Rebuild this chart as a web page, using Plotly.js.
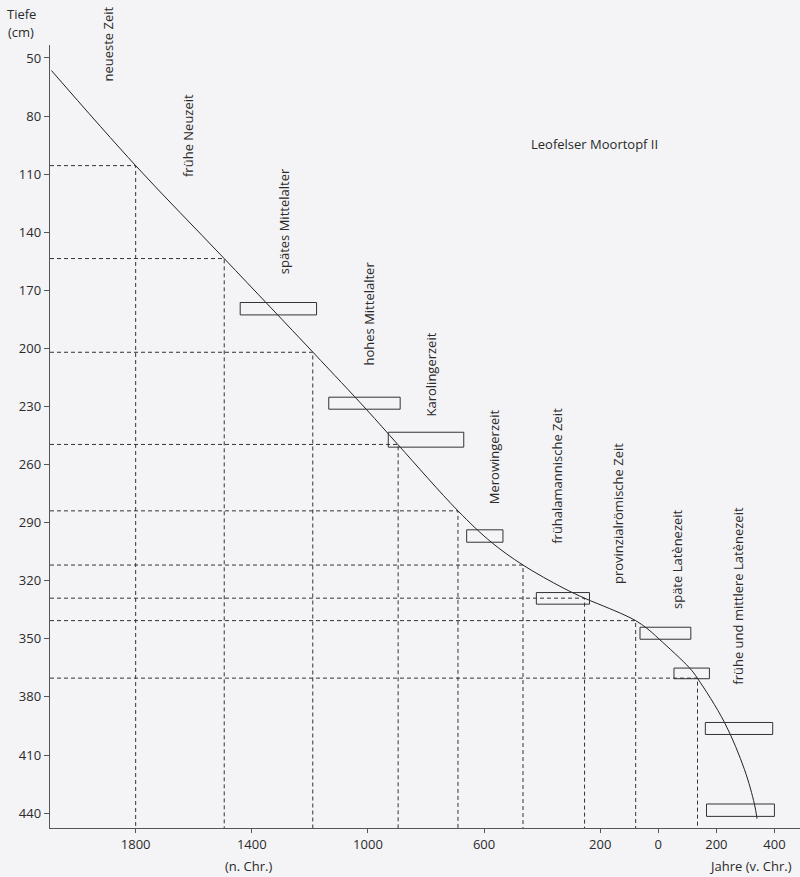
<!DOCTYPE html>
<html>
<head>
<meta charset="utf-8">
<script src="https://cdn.plot.ly/plotly-3.0.1.min.js"></script>
<style>
  html, body { margin: 0; padding: 0; background: #f4f4f6; }
  #chart { width: 800px; height: 877px; }
</style>
</head>
<body>
<div id="chart"></div>
<script>
// ---------- data (years: n. Chr. positive, v. Chr. negative; depth in cm) ----------
const depthTicks = [50, 80, 110, 140, 170, 200, 230, 260, 290, 320, 350, 380, 410, 440];
const yearTicks = [1800, 1400, 1000, 600, 200, 0, -200, -400];
const yearTickText = ['1800', '1400', '1000', '600', '200', '0', '200', '400'];

// age-depth curve
const curveYear  = [2090, 1800, 1495, 1188, 1006, 896, 690, 575, 466, 328, 254, 169, 118, 78, 39, -2, -108, -135, -228, -297, -331, -340];
const curveDepth = [56.5, 105.6, 153.6, 202.2, 231.4, 249.8, 283.9, 300.1, 311.9, 323.7, 329, 334.3, 337.6, 340.6, 344.6, 350.0, 365.1, 370.4, 393.2, 417.6, 435.3, 442.9];

// period boundaries (dashed)
const boundaryYear  = [1800, 1495, 1190, 896, 690, 466, 254, 78, -135];
const boundaryDepth = [105.6, 153.6, 202, 249.6, 283.9, 311.9, 329, 340.6, 370.3];

// dating boxes (calibrated ranges)
const boxYearFrom  = [1440, 1135, 930, 660, 420, 63, -54, -162, -166];
const boxYearTo    = [1177, 889, 670, 535, 237, -112, -176, -394, -400];
const boxDepthTop  = [176.3, 225.2, 243.3, 293.7, 326.1, 344, 365.1, 393.2, 435.3];
const boxDepthBot  = [182.7, 231.4, 251, 300.1, 332.1, 350.2, 370.6, 399.4, 441.7];

// period names
const periods = ['neueste Zeit', 'frühe Neuzeit', 'spätes Mittelalter', 'hohes Mittelalter', 'Karolingerzeit',
                 'Merowingerzeit', 'frühalamannische Zeit', 'provinzialrömische Zeit', 'späte Latènezeit',
                 'frühe und mittlere Latènezeit'];

// ---------- layout constants ----------
const W = 800, H = 877, ML = 50, MR = 0, MT = 45, MB = 49;
const xRange = [2095, -488];
const yRange = [447.7, 43.3];
const FONT = 'Open Sans, Noto Sans, sans-serif';
const INK = '#2a2a2a';
const AX = '#555555';
const pw = W - ML - MR, ph = H - MT - MB;
const paperX = p => (p - ML) / pw;
const paperY = p => (H - MB - p) / ph;

// label centre positions (pixels) for period names
const periodLabelPx = [[108, 44.5], [188, 136], [283.4, 220.8], [368.5, 314], [430.5, 375],
                       [493.5, 456.7], [556.8, 476], [618, 514], [677, 559], [738, 595.7]];

// ---------- traces ----------
const bx = [], by = [];
for (let i = 0; i < boundaryYear.length; i++) {
  bx.push(xRange[0], boundaryYear[i], boundaryYear[i], null);
  by.push(boundaryDepth[i], boundaryDepth[i], yRange[0], null);
}
const traces = [
  { x: bx, y: by, mode: 'lines', type: 'scatter', hoverinfo: 'skip',
    line: { color: '#333', width: 1, dash: '4px,3px' }, connectgaps: false },
  { x: curveYear, y: curveDepth, mode: 'lines', type: 'scatter', hoverinfo: 'skip',
    line: { color: '#222', width: 1, shape: 'spline', smoothing: 1 } }
];

const shapes = boxYearFrom.map((x0, i) => ({
  type: 'rect', xref: 'x', yref: 'y', x0: x0, x1: boxYearTo[i], y0: boxDepthTop[i], y1: boxDepthBot[i],
  line: { color: '#333', width: 1 }, fillcolor: 'rgba(0,0,0,0)', layer: 'above'
}));

const annotations = periods.map((t, i) => ({
  text: t, x: paperX(periodLabelPx[i][0]), y: paperY(periodLabelPx[i][1]), xref: 'paper', yref: 'paper',
  textangle: -90, showarrow: false, xanchor: 'center', yanchor: 'middle',
  font: { family: FONT, size: 13, color: INK }
}));
annotations.push(
  { text: 'Leofelser Moortopf II', x: paperX(594), y: paperY(144), xref: 'paper', yref: 'paper', showarrow: false,
    xanchor: 'center', yanchor: 'middle', font: { family: FONT, size: 13, color: INK } },
  { text: 'Tiefe', x: paperX(22), y: paperY(13.5), xref: 'paper', yref: 'paper', showarrow: false,
    xanchor: 'center', yanchor: 'middle', font: { family: FONT, size: 13, color: INK } },
  { text: '(cm)', x: paperX(20.5), y: paperY(32), xref: 'paper', yref: 'paper', showarrow: false,
    xanchor: 'center', yanchor: 'middle', font: { family: FONT, size: 13, color: INK } },
  { text: '(n. Chr.)', x: paperX(249), y: paperY(866.5), xref: 'paper', yref: 'paper', showarrow: false,
    xanchor: 'center', yanchor: 'middle', font: { family: FONT, size: 13, color: INK } },
  { text: 'Jahre (v. Chr.)', x: paperX(750), y: paperY(866), xref: 'paper', yref: 'paper', showarrow: false,
    xanchor: 'center', yanchor: 'middle', font: { family: FONT, size: 13, color: INK } }
);

const layout = {
  width: W, height: H,
  margin: { l: ML, r: MR, t: MT, b: MB, pad: 0 },
  paper_bgcolor: '#f4f4f6', plot_bgcolor: '#f4f4f6',
  showlegend: false,
  font: { family: FONT, size: 13, color: INK },
  xaxis: {
    range: xRange, showgrid: false, zeroline: false, showline: true, linecolor: AX, linewidth: 1.3,
    ticks: 'outside', ticklen: 4, tickwidth: 1, tickcolor: AX,
    tickvals: yearTicks, ticktext: yearTickText, tickfont: { family: FONT, size: 13, color: INK },
    fixedrange: true
  },
  yaxis: {
    range: yRange, showgrid: false, zeroline: false, showline: true, linecolor: AX, linewidth: 1.3,
    ticks: 'outside', ticklen: 5, tickwidth: 1, tickcolor: AX,
    tickvals: depthTicks, tickfont: { family: FONT, size: 13, color: INK },
    fixedrange: true
  },
  shapes: shapes,
  annotations: annotations
};

Plotly.newPlot('chart', traces, layout, { displayModeBar: false, staticPlot: true });
</script>
</body>
</html>
